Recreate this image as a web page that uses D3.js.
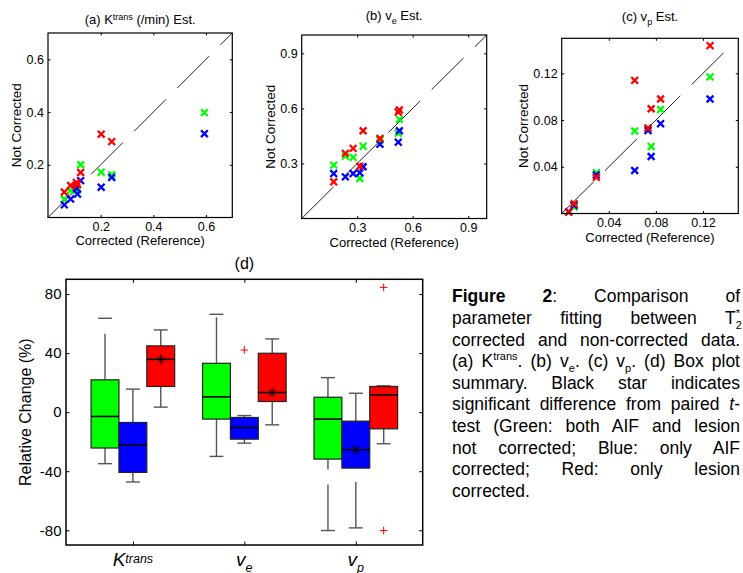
<!DOCTYPE html>
<html>
<head>
<meta charset="utf-8">
<script src="https://cdn.jsdelivr.net/npm/d3@7"></script>
<style>
  body { margin: 0; background: #fff; }
  #wrap { position: relative; width: 743px; height: 573px; overflow: hidden; }
  svg text { font-family: "Liberation Sans", Arial, Helvetica, sans-serif; fill: #000; }
  #caption {
    position: absolute; left: 452px; top: 286.4px; width: 288px;
    font-family: "Liberation Sans", Arial, Helvetica, sans-serif;
    font-size: 17.5px; line-height: 21.6px; color: #000;
  }
  #caption div { text-align: justify; text-align-last: justify; }
  #caption div.last { text-align-last: left; }
  #caption sup, #caption sub { font-size: 11px; line-height: 0; }
  #caption sup.stack { margin-left: -0.55em; }
</style>
</head>
<body>
<div id="wrap">
  <svg id="chart" width="743" height="573"></svg>
  <div id="caption"></div>
</div>
<script>
// ---- scatter data (corrected value, then not-corrected values per series) ----
const kCorr  = [0.062, 0.086, 0.108, 0.112, 0.124, 0.202, 0.242, 0.594];
const kGreen = [0.070, 0.1025, 0.115, 0.105, 0.200, 0.172, 0.162, 0.398];
const kBlue  = [0.048, 0.070, 0.111, 0.089, 0.140, 0.115, 0.152, 0.318];
const kRed   = [0.0965, 0.1215, 0.133, 0.125, 0.171, 0.316, 0.288, null];
const kTicks = [0.2, 0.4, 0.6];

const veCorr  = [0.173, 0.236, 0.278, 0.314, 0.332, 0.423, 0.522, 0.528];
const veGreen = [0.291, 0.340, 0.333, 0.218, 0.394, 0.427, 0.465, 0.540];
const veBlue  = [0.245, 0.227, 0.245, 0.249, 0.282, 0.405, 0.416, 0.478];
const veRed   = [0.200, 0.355, 0.382, 0.285, 0.478, 0.436, 0.580, 0.592];
const veTicks = [0.3, 0.6, 0.9];

const vpCorr  = [0.006, 0.0105, 0.0294, 0.062, 0.0733, 0.076, 0.084, 0.126];
const vpGreen = [0.0015, 0.0055, 0.035, 0.0706, 0.072, 0.0574, 0.089, 0.117];
const vpBlue  = [0.0015, 0.007, 0.033, 0.0368, 0.071, 0.0488, 0.0769, 0.098];
const vpRed   = [0.0012, 0.0083, 0.031, 0.114, 0.0732, 0.0897, 0.098, 0.1437];
const vpTicks = [0.04, 0.08, 0.12];

// ---- box plot data: [lower whisker, q1, median, q3, upper whisker] for Ktrans, ve, vp ----
const boxParams = ["Ktrans", "ve", "vp"];
const greenBoxes = [[-34.9, -24.3, -2.9, 21.9, 63.6], [-30.0, -4.7, 10.4, 33.1, 66.3], [-80.2, -31.8, -4.7, 10.1, 23.4]];
const blueBoxes  = [[-47.3, -40.8, -22.1, -7.0, 15.6], [-21.0, -18.3, -10.4, -3.6, -2.3], [-78.4, -37.9, -25.5, -6.1, 12.8]];
const redBoxes   = [[3.4, 17.4, 35.8, 44.9, 55.7], [-8.6, 7.2, 13.3, 39.9, 49.6], [-21.4, -11.3, 11.7, 17.4, 17.8]];
// outliers: [param index, series index, value]
const outliers = [[1, 1, 42.1], [2, 2, 84.5], [2, 2, -80.2]];
// significant (star at median): [param index, series index]
const stars = [[0, 2], [1, 2], [2, 1]];
const boxTicks = [-80, -40, 0, 40, 80];

const captionLines = [
  '<b>Figure 2</b>: Comparison of',
  'parameter fitting between T<sub>2</sub><sup class="stack">*</sup>',
  'corrected and non-corrected data.',
  '(a) K<sup>trans</sup>. (b) v<sub>e</sub>. (c) v<sub>p</sub>. (d) Box plot',
  'summary. Black star indicates',
  'significant difference from paired <i>t</i>-',
  'test (Green: both AIF and lesion',
  'not corrected; Blue: only AIF',
  'corrected; Red: only lesion',
  'corrected.'
];

const seriesColors = ["#00ff00", "#0000ff", "#ff0000"];
const svg = d3.select("#chart");

// ---------------- scatter panels ----------------
const panels = [
  { corr: kCorr, vals: [kGreen, kBlue, kRed], domain: [0, 0.7], diag: [0, 0.7], ticks: kTicks,
    left: 48, right: 232.3, top: 33, bottom: 217.5, titleY: 24, xLabY: 245, yLabX: 21,
    title: t => { t.append("tspan").text("(a) K"); t.append("tspan").attr("font-size", 9).attr("dy", -4.5).text("trans");
                  t.append("tspan").attr("dy", 4.5).text(" (/min) Est."); } },
  { corr: veCorr, vals: [veGreen, veBlue, veRed], domain: [0, 1], diag: [0, 1], ticks: veTicks,
    left: 301.7, right: 486.7, top: 35, bottom: 218.5, titleY: 20, xLabY: 246.5, yLabX: 275,
    title: t => { t.append("tspan").text("(b) v"); t.append("tspan").attr("font-size", 9).attr("dy", 3.5).text("e");
                  t.append("tspan").attr("dy", -3.5).text(" Est."); } },
  { corr: vpCorr, vals: [vpGreen, vpBlue, vpRed], domain: [0, 0.15], diag: [0, 0.14], ticks: vpTicks,
    left: 561.7, right: 738.3, top: 38.3, bottom: 213.5, titleY: 21, xLabY: 242, yLabX: 528,
    title: t => { t.append("tspan").text("(c) v"); t.append("tspan").attr("font-size", 9).attr("dy", 3.5).text("p");
                  t.append("tspan").attr("dy", -3.5).text(" Est."); } }
];

panels.forEach(p => {
  const x = d3.scaleLinear().domain(p.domain).range([p.left, p.right]);
  const y = d3.scaleLinear().domain(p.domain).range([p.bottom, p.top]);
  const g = svg.append("g");

  g.append("line")
    .attr("x1", x(p.diag[0])).attr("y1", y(p.diag[0]))
    .attr("x2", x(p.diag[1])).attr("y2", y(p.diag[1]))
    .attr("stroke", "#222").attr("stroke-width", 1)
    .attr("stroke-dasharray", "45,16");

  p.vals.forEach((vals, si) => {
    const pts = p.corr.map((c, i) => [c, vals[i]]).filter(d => d[1] != null);
    g.selectAll(null).data(pts).enter().append("path")
      .attr("transform", d => `translate(${x(d[0])},${y(d[1])})`)
      .attr("d", "M-3.4,-3.4L3.4,3.4M-3.4,3.4L3.4,-3.4")
      .attr("stroke", seriesColors[si])
      .attr("stroke-width", 2.3)
      .attr("fill", "none");
  });

  const fmt = d => String(d);
  const axes = [
    [d3.axisBottom(x).tickFormat(fmt).tickPadding(4.2), `translate(0,${p.bottom})`],
    [d3.axisTop(x).tickFormat(""), `translate(0,${p.top})`],
    [d3.axisLeft(y).tickFormat(fmt).tickPadding(4), `translate(${p.left},0)`],
    [d3.axisRight(y).tickFormat(""), `translate(${p.right},0)`]
  ];
  axes.forEach(([ax, tr]) => {
    const a = g.append("g").attr("transform", tr)
      .call(ax.tickValues(p.ticks).tickSizeInner(-2.5).tickSizeOuter(0));
    a.select(".domain").remove();
    a.selectAll("line").attr("stroke", "#000");
    a.selectAll("text").attr("font-size", 12.5).attr("font-family", null);
  });

  g.append("rect")
    .attr("x", p.left).attr("y", p.top)
    .attr("width", p.right - p.left).attr("height", p.bottom - p.top)
    .attr("fill", "none").attr("stroke", "#000").attr("stroke-width", 1.2);

  const title = g.append("text")
    .attr("x", (p.left + p.right) / 2).attr("y", p.titleY)
    .attr("text-anchor", "middle").attr("font-size", 13);
  p.title(title);

  g.append("text")
    .attr("x", (p.left + p.right) / 2).attr("y", p.xLabY)
    .attr("text-anchor", "middle").attr("font-size", 13)
    .text("Corrected (Reference)");

  g.append("text")
    .attr("transform", `translate(${p.yLabX},${(p.top + p.bottom) / 2}) rotate(-90)`)
    .attr("text-anchor", "middle").attr("font-size", 13.5)
    .text("Not Corrected");
});

// ---------------- box plot (d) ----------------
const bLeft = 66, bRight = 422.7, bTop = 279.3, bBottom = 545;
const bx = d3.scaleLinear().domain([0.4, 3.6]).range([bLeft, bRight]);
const by = d3.scaleLinear().domain([-90, 90]).range([bBottom, bTop]);
const offsets = [-0.25, 0, 0.25];
const boxW = 0.25;
const allBoxes = [greenBoxes, blueBoxes, redBoxes];
const gb = svg.append("g");

const boxData = [];
allBoxes.forEach((series, si) => series.forEach((s, pi) => {
  boxData.push({ pi, si, s, cx: pi + 1 + offsets[si] });
}));

// whiskers (drawn from lower value upward so the dash starts at the low end)
const whisk = [];
boxData.forEach(d => {
  whisk.push({ cx: d.cx, lo: d.s[0], hi: d.s[1] });
  whisk.push({ cx: d.cx, lo: d.s[3], hi: d.s[4] });
});
gb.selectAll(".whisker").data(whisk).enter().append("line")
  .attr("class", "whisker")
  .attr("x1", d => bx(d.cx)).attr("x2", d => bx(d.cx))
  .attr("y1", d => by(d.lo)).attr("y2", d => by(d.hi))
  .attr("stroke", "#555").attr("stroke-width", 1.4)
  .attr("stroke-dasharray", "46,15");

// caps
const caps = [];
boxData.forEach(d => { caps.push({ cx: d.cx, v: d.s[0] }); caps.push({ cx: d.cx, v: d.s[4] }); });
gb.selectAll(".cap").data(caps).enter().append("line")
  .attr("class", "cap")
  .attr("x1", d => bx(d.cx - boxW / 4)).attr("x2", d => bx(d.cx + boxW / 4))
  .attr("y1", d => by(d.v)).attr("y2", d => by(d.v))
  .attr("stroke", "#555").attr("stroke-width", 1.4);

// boxes
gb.selectAll(".box").data(boxData).enter().append("rect")
  .attr("class", "box")
  .attr("x", d => bx(d.cx - boxW / 2))
  .attr("width", d => bx(d.cx + boxW / 2) - bx(d.cx - boxW / 2))
  .attr("y", d => by(d.s[3]))
  .attr("height", d => by(d.s[1]) - by(d.s[3]))
  .attr("fill", d => seriesColors[d.si])
  .attr("stroke", "#222").attr("stroke-width", 1.2);

// medians
gb.selectAll(".median").data(boxData).enter().append("line")
  .attr("class", "median")
  .attr("x1", d => bx(d.cx - boxW / 2)).attr("x2", d => bx(d.cx + boxW / 2))
  .attr("y1", d => by(d.s[2])).attr("y2", d => by(d.s[2]))
  .attr("stroke", "#000").attr("stroke-width", 1.6);

// outliers
gb.selectAll(".outlier").data(outliers).enter().append("path")
  .attr("class", "outlier")
  .attr("transform", d => `translate(${bx(d[0] + 1 + offsets[d[1]])},${by(d[2])})`)
  .attr("d", "M-3.8,0H3.8M0,-3.8V3.8")
  .attr("stroke", "#ff0000").attr("stroke-width", 1);

// stars
gb.selectAll(".star").data(stars).enter().append("path")
  .attr("class", "star")
  .attr("transform", d => {
    const s = allBoxes[d[1]][d[0]];
    return `translate(${bx(d[0] + 1 + offsets[d[1]])},${by(s[2])})`;
  })
  .attr("d", "M-5,0H5M0,-5V5M-3.5,-3.5L3.5,3.5M-3.5,3.5L3.5,-3.5")
  .attr("stroke", "#000").attr("stroke-width", 1);

// axes of (d)
const gAxes = [
  [d3.axisLeft(by).tickValues(boxTicks).tickFormat(d => String(d)).tickPadding(4.5), `translate(${bLeft},0)`],
  [d3.axisRight(by).tickValues(boxTicks).tickFormat(""), `translate(${bRight},0)`],
  [d3.axisBottom(bx).tickValues([1, 2, 3]).tickFormat(""), `translate(0,${bBottom})`],
  [d3.axisTop(bx).tickValues([1, 2, 3]).tickFormat(""), `translate(0,${bTop})`]
];
gAxes.forEach(([ax, tr]) => {
  const a = gb.append("g").attr("transform", tr)
    .call(ax.tickSizeInner(-3.5).tickSizeOuter(0));
  a.select(".domain").remove();
  a.selectAll("line").attr("stroke", "#000");
  a.selectAll("text").attr("font-size", 15).attr("font-family", null);
});

gb.append("rect")
  .attr("x", bLeft).attr("y", bTop)
  .attr("width", bRight - bLeft).attr("height", bBottom - bTop)
  .attr("fill", "none").attr("stroke", "#000").attr("stroke-width", 1.5);

gb.append("text")
  .attr("x", (bLeft + bRight) / 2).attr("y", 269)
  .attr("text-anchor", "middle").attr("font-size", 16)
  .text("(d)");

gb.append("text")
  .attr("transform", `translate(31,${(bTop + bBottom) / 2}) rotate(-90)`)
  .attr("text-anchor", "middle").attr("font-size", 16)
  .text("Relative Change (%)");

// category labels
const catLabels = [["K", "trans", -3], ["v", "e", 6], ["v", "p", 6]];
gb.selectAll(".cat").data(catLabels).enter().append("text")
  .attr("class", "cat")
  .attr("x", (d, i) => bx(i + 1)).attr("y", 565.5)
  .attr("text-anchor", "middle").attr("font-size", 19).attr("font-style", "italic")
  .each(function(d) {
    const t = d3.select(this);
    t.append("tspan").text(d[0]);
    t.append("tspan").attr("font-size", 12.5).attr("dy", d[2]).text(d[1]);
  });

// ---------------- caption ----------------
d3.select("#caption").selectAll("div").data(captionLines).enter().append("div")
  .attr("class", (d, i) => i === captionLines.length - 1 ? "last" : null)
  .html(d => d);
</script>
</body>
</html>
